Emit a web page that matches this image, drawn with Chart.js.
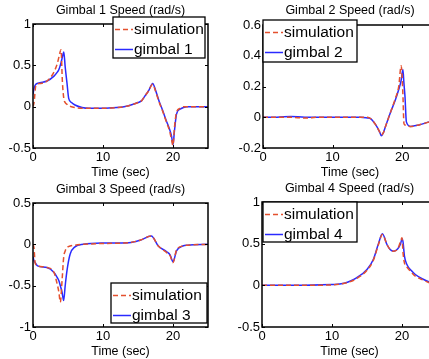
<!DOCTYPE html>
<html>
<head>
<meta charset="utf-8">
<script src="https://cdn.jsdelivr.net/npm/chart.js@4.4.1/dist/chart.umd.min.js"></script>
<style>
  html, body { margin: 0; padding: 0; background: #fff; }
  #fig { position: relative; width: 429px; height: 359px; overflow: hidden; background: #fff; }
  #fig canvas { position: absolute; }
</style>
</head>
<body>
<div id="fig">
  <canvas id="g1" width="214" height="180" style="left:0;top:0;width:214px;height:180px"></canvas>
  <canvas id="g2" width="230" height="180" style="left:214px;top:0;width:230px;height:180px"></canvas>
  <canvas id="g3" width="214" height="179" style="left:0;top:180px;width:214px;height:179px"></canvas>
  <canvas id="g4" width="230" height="179" style="left:214px;top:180px;width:230px;height:179px"></canvas>
</div>
<script>
// tick values
const xTicks = [0, 10, 20];
const yTicks1 = [-0.5, 0, 0.5, 1];
const yTicks2 = [-0.2, 0, 0.2, 0.4, 0.6];
const yTicks3 = [-1, -0.5, 0, 0.5];
const yTicks4 = [-0.5, 0, 0.5, 1];

// gimbal 1 (time in sec, speed in rad/s)
const time1 = [0, 0.15, 0.4, 1, 2, 3, 3.5, 3.7, 4.0, 4.2, 4.4, 4.6, 4.85, 5.1, 5.5, 6, 7, 8, 10, 12, 13, 14, 15, 15.5, 16, 16.5, 17.1, 17.5, 18, 18.5, 19, 19.5, 19.8, 20, 20.2, 20.5, 21, 21.5, 22, 23, 25];
const sim1 = [0, 0.05, 0.25, 0.28, 0.31, 0.42, 0.53, 0.6, 0.69, 0.3, 0.1, 0.05, 0.03, 0.01, 0, -0.01, -0.02, -0.02, -0.02, -0.01, 0, 0.02, 0.05, 0.07, 0.13, 0.19, 0.27, 0.19, 0.06, -0.05, -0.17, -0.29, -0.4, -0.47, -0.26, -0.07, -0.02, 0, 0, 0, 0];
const meas1 = [0.15, 0.22, 0.27, 0.29, 0.31, 0.37, 0.42, 0.45, 0.53, 0.6, 0.66, 0.48, 0.29, 0.1, 0.05, 0.02, -0.01, -0.02, -0.02, -0.01, 0, 0.02, 0.05, 0.07, 0.13, 0.19, 0.28, 0.2, 0.07, -0.04, -0.16, -0.27, -0.36, -0.46, -0.3, -0.09, -0.03, -0.01, 0, 0, 0];

// gimbal 2
const time2 = [0, 2, 4, 6, 8, 10, 12, 14, 15, 15.5, 16.2, 16.7, 17.0, 17.3, 17.6, 18.3, 19, 19.5, 19.85, 20.1, 20.25, 20.4, 20.6, 21.2, 22.4, 23.9, 25];
const sim2 = [0, 0, 0, -0.005, 0, 0, 0, 0, 0, -0.01, -0.05, -0.09, -0.115, -0.1, -0.06, 0.03, 0.12, 0.2, 0.335, 0.15, -0.04, -0.05, -0.055, -0.06, -0.05, -0.03, -0.015];
const meas2 = [0, 0, 0.005, 0, 0, 0, 0, 0, -0.005, -0.01, -0.05, -0.09, -0.12, -0.1, -0.06, 0.03, 0.11, 0.18, 0.24, 0.31, 0.22, 0.135, -0.03, -0.06, -0.05, -0.03, -0.02];

// gimbal 3
const time3 = [0, 0.15, 0.3, 0.65, 2, 3, 3.45, 3.7, 3.9, 4.15, 4.38, 4.6, 4.85, 5.3, 6, 7.2, 10, 13.7, 15.3, 16.9, 17.9, 19.1, 19.6, 20, 20.5, 21.4, 22.1, 25];
const sim3 = [0, -0.05, -0.22, -0.26, -0.28, -0.34, -0.48, -0.58, -0.7, -0.44, -0.16, -0.08, -0.04, -0.02, -0.01, 0, 0.01, 0.02, 0.05, 0.1, -0.02, -0.1, -0.14, -0.22, -0.07, -0.02, -0.01, 0];
const meas3 = [-0.15, -0.2, -0.22, -0.26, -0.28, -0.34, -0.4, -0.44, -0.5, -0.58, -0.68, -0.5, -0.32, -0.12, -0.03, 0, 0.015, 0.02, 0.05, 0.1, -0.02, -0.09, -0.13, -0.21, -0.08, -0.02, -0.01, 0];

// gimbal 4
const time4 = [0, 5, 10, 11.1, 12.3, 13.5, 15, 15.9, 16.6, 17.2, 17.85, 18.3, 18.8, 19.4, 19.8, 20.0, 20.15, 20.35, 20.7, 21.3, 21.9, 23.1, 23.9, 25];
const sim4 = [0, 0, 0.005, 0.015, 0.035, 0.08, 0.18, 0.3, 0.48, 0.61, 0.49, 0.43, 0.41, 0.44, 0.53, 0.57, 0.39, 0.27, 0.22, 0.16, 0.11, 0.06, 0.03, 0.01];
const meas4 = [0, 0, 0.01, 0.015, 0.04, 0.09, 0.19, 0.31, 0.49, 0.62, 0.49, 0.43, 0.41, 0.44, 0.5, 0.56, 0.52, 0.35, 0.25, 0.18, 0.13, 0.07, 0.04, 0.01];

const FONT = "'Liberation Sans', Arial, sans-serif";
const RED = '#e4502e';
const BLUE = '#2a2aff';

// matlab style box, inward ticks and a boxed legend
const matlabFrame = {
  id: 'matlabFrame',
  afterDatasetsDraw(chart, args, opts) {
    const {ctx, chartArea: a, scales} = chart;
    ctx.save();
    ctx.strokeStyle = '#000';
    ctx.lineWidth = 1.5;
    ctx.strokeRect(a.left, a.top, a.right - a.left, a.bottom - a.top);
    ctx.lineWidth = 1;
    ctx.beginPath();
    xTicks.forEach(v => {
      const px = Math.round(scales.x.getPixelForValue(v)) + 0.5;
      ctx.moveTo(px, a.bottom); ctx.lineTo(px, a.bottom - 3);
      ctx.moveTo(px, a.top); ctx.lineTo(px, a.top + 3);
    });
    opts.yTicks.forEach(v => {
      const py = Math.round(scales.y.getPixelForValue(v)) + 0.5;
      ctx.moveTo(a.left, py); ctx.lineTo(a.left + 3, py);
      ctx.moveTo(a.right, py); ctx.lineTo(a.right - 3, py);
    });
    ctx.stroke();
    ctx.restore();
  },
  afterDraw(chart, args, opts) {
    const {ctx} = chart;
    const lg = opts.legend;
    ctx.save();
    ctx.fillStyle = '#fff';
    ctx.fillRect(lg.x, lg.y, lg.w, lg.h);
    ctx.strokeStyle = '#000';
    ctx.lineWidth = 1.3;
    ctx.strokeRect(lg.x, lg.y, lg.w, lg.h);
    chart.data.datasets.forEach((ds, i) => {
      const y = lg.y + 12.5 + i * 20;
      ctx.strokeStyle = ds.borderColor;
      ctx.lineWidth = ds.borderWidth;
      ctx.setLineDash(ds.borderDash || []);
      ctx.beginPath();
      ctx.moveTo(lg.x + 2, y);
      ctx.lineTo(lg.x + 20, y);
      ctx.stroke();
      ctx.setLineDash([]);
      ctx.fillStyle = '#000';
      ctx.font = '15.5px ' + FONT;
      ctx.textBaseline = 'middle';
      ctx.fillText(ds.label, lg.x + 21, y);
    });
    ctx.restore();
  }
};

function speedChart(id, n, time, sim, meas, yTicks, lay) {
  const pts = vals => time.map((t, i) => ({x: t, y: vals[i]}));
  const tickFont = {family: FONT, size: 13};
  return new Chart(document.getElementById(id), {
    type: 'line',
    data: {
      datasets: [{
        label: 'simulation',
        data: pts(sim),
        borderColor: RED,
        borderDash: [5, 3],
        borderWidth: 1.5,
        pointRadius: 0,
        cubicInterpolationMode: 'monotone',
      }, {
        label: 'gimbal ' + n,
        data: pts(meas),
        borderColor: BLUE,
        borderWidth: 1.5,
        pointRadius: 0,
        cubicInterpolationMode: 'monotone',
      }]
    },
    options: {
      responsive: false,
      animation: false,
      devicePixelRatio: 1,
      layout: { padding: { top: 0, left: 0, bottom: 0, right: lay.padRight } },
      plugins: {
        legend: { display: false },
        tooltip: { enabled: false },
        title: {
          display: true,
          text: 'Gimbal ' + n + ' Speed (rad/s)',
          fullSize: false,
          color: '#000',
          font: { family: FONT, size: 12.5, weight: 'normal', lineHeight: 1.2 },
          padding: { top: lay.titleTop, bottom: lay.top - lay.titleTop - 15 }
        },
        matlabFrame: { yTicks: yTicks, legend: lay.legend }
      },
      scales: {
        x: {
          type: 'linear',
          min: 0,
          max: 25,
          afterBuildTicks: s => { s.ticks = xTicks.map(v => ({value: v})); },
          afterFit: s => { s.height = lay.xHeight; },
          grid: { display: false, drawTicks: false },
          border: { display: false },
          ticks: { color: '#000', padding: 2, font: tickFont, maxRotation: 0, autoSkip: false },
          title: {
            display: true,
            text: 'Time (sec)',
            color: '#000',
            font: { family: FONT, size: 12.5, lineHeight: 1.2 },
            padding: { top: 0, bottom: 0 }
          }
        },
        y: {
          type: 'linear',
          min: yTicks[0],
          max: yTicks[yTicks.length - 1],
          afterBuildTicks: s => { s.ticks = yTicks.map(v => ({value: v})); },
          afterFit: s => { s.width = lay.yWidth; },
          grid: { display: false, drawTicks: false },
          border: { display: false },
          ticks: { color: '#000', padding: 2, font: tickFont, callback: v => String(v) }
        }
      }
    },
    plugins: [matlabFrame]
  });
}

speedChart('g1', 1, time1, sim1, meas1, yTicks1,
  { top: 24, titleTop: 3, padRight: 6, yWidth: 33, xHeight: 32, legend: { x: 113, y: 17, w: 92, h: 41 } });
speedChart('g2', 2, time2, sim2, meas2, yTicks2,
  { top: 25, titleTop: 3, padRight: 7, yWidth: 49, xHeight: 32, legend: { x: 49, y: 20, w: 94, h: 42 } });
speedChart('g3', 3, time3, sim3, meas3, yTicks3,
  { top: 23, titleTop: 2, padRight: 6, yWidth: 33, xHeight: 32, legend: { x: 111, y: 103, w: 96, h: 40 } });
speedChart('g4', 4, time4, sim4, meas4, yTicks4,
  { top: 22, titleTop: 1, padRight: 7, yWidth: 48, xHeight: 32, legend: { x: 49, y: 22, w: 94, h: 40 } });
</script>
</body>
</html>
